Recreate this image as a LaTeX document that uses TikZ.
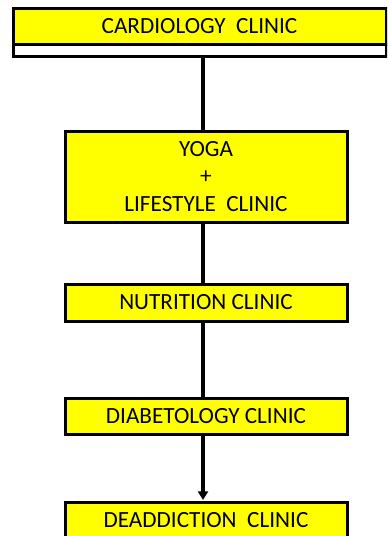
\documentclass[tikz,border=0pt]{standalone}
\usepackage{fontspec}
\setmainfont{Carlito}
\usetikzlibrary{arrows.meta}
\definecolor{boxyellow}{HTML}{FFFF00}
\tikzset{
  clinic/.style={draw=black, fill=boxyellow, line width=2.25pt, inner sep=0pt, outer sep=0pt,
    minimum width=211.5pt, align=center, font=\fontsize{17.4pt}{20.6pt}\selectfont},
  link/.style={draw=black, line width=2.5pt},
}
\begin{document}
\begin{tikzpicture}[x=0.75pt, y=-0.75pt]
\useasboundingbox (0,0) rectangle (387,536);
\clip (0,0) rectangle (387,536);
% top block
\node[draw=black, fill=white, line width=2.25pt, inner sep=0pt, outer sep=0pt,
      minimum width=279.75pt, minimum height=9pt] (strip) at (199.5,50) {};
\node[clinic, minimum width=279.75pt, minimum height=27pt] (cardio) at (199.5,26.5) {CARDIOLOGY~~CLINIC};
\node[clinic, minimum height=68.25pt] (yoga) at (206,176.5) {YOGA\\+\\LIFESTYLE~~CLINIC};
\node[clinic, minimum height=27.75pt] (nutri) at (206,302.5) {NUTRITION CLINIC};
\node[clinic, minimum height=27pt] (diab) at (206,416) {DIABETOLOGY CLINIC};
\node[clinic, minimum height=27pt] (deadd) at (206,520) {DEADDICTION~~CLINIC};
% connectors
\draw[link] ([xshift=-2.25pt]strip.south -| yoga.north) -- ([xshift=-2.25pt]yoga.north);
\draw[link] ([xshift=-2.25pt]yoga.south) -- ([xshift=-2.25pt]nutri.north);
\draw[link] ([xshift=-2.25pt]nutri.south) -- ([xshift=-2.25pt]diab.north);
\draw[link, -{Triangle[length=6.5pt, width=7.5pt]}, shorten >=1.5pt]
  ([xshift=-2.25pt]diab.south) -- ([xshift=-2.25pt]deadd.north);
\end{tikzpicture}
\end{document}
